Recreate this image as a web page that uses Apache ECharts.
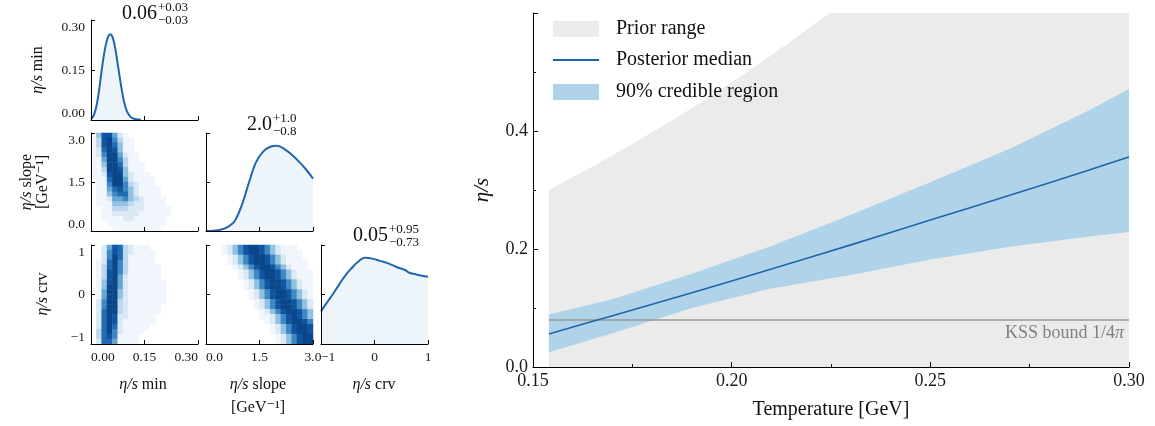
<!DOCTYPE html>
<html><head><meta charset="utf-8">
<script src="https://cdn.jsdelivr.net/npm/echarts@6/dist/echarts.min.js"></script>
<style>html,body{margin:0;padding:0;background:#fff}#c{width:1155px;height:426px}</style>
</head><body><div id="c"></div>
<script>
// ---------------- DATA ----------------
// Tick labels
const minTicks = ['0.00', '0.15', '0.30'];
const slopeTicks = ['0.0', '1.5', '3.0'];
const crvTicks = ['\u22121', '0', '1'];
const tempTicks = ['0.15', '0.20', '0.25', '0.30'];
const etaTicks = ['0.0', '0.2', '0.4', ''];

// Parameter ranges [min, max, tick step]
const minRange = [0, 0.30, 0.15];
const slopeRange = [0, 3.0, 1.5];
const crvRange = [-1, 1, 1];
const densRange = [0, 1, 0.5];

// Posterior estimates shown above diagonal panels
const estMedian = ['0.06', '2.0', '0.05'];
const estPlus = ['+0.03', '+1.0', '+0.95'];
const estMinus = ['\u22120.03', '\u22120.8', '\u22120.73'];

// 1D marginal densities
const kdeMinX = [0.000, 0.008, 0.016, 0.024, 0.032, 0.040, 0.048, 0.054, 0.060, 0.068, 0.076, 0.084, 0.092, 0.100, 0.110, 0.120, 0.140];
const kdeMinY = [0.003, 0.015, 0.045, 0.100, 0.165, 0.218, 0.250, 0.257, 0.250, 0.215, 0.160, 0.105, 0.058, 0.028, 0.010, 0.004, 0.001];
const kdeSlopeX = [0.0, 0.2, 0.4, 0.6, 0.8, 1.0, 1.2, 1.4, 1.6, 1.8, 2.0, 2.2, 2.4, 2.6, 2.8, 3.0];
const kdeSlopeY = [0.000, 0.003, 0.012, 0.040, 0.100, 0.260, 0.490, 0.700, 0.810, 0.860, 0.870, 0.835, 0.780, 0.710, 0.630, 0.535];
const kdeCrvX = [-1.0, -0.9, -0.77, -0.65, -0.52, -0.42, -0.33, -0.18, -0.02, 0.10, 0.23, 0.40, 0.58, 0.65, 0.80, 1.0];
const kdeCrvY = [0.33, 0.41, 0.51, 0.61, 0.71, 0.77, 0.82, 0.87, 0.86, 0.84, 0.82, 0.78, 0.745, 0.72, 0.70, 0.68];

// 2D histograms: 20x20 bins, intensity 0-9, rows listed from top (max y) to bottom
const heatMinSlope = [
  "14885210000000000000","13896311000000000000","13897411000000000000","12798411000000000000",
  "12699521100000000000","11599631100000000000","11499731110000000000","11399841110000000000",
  "11289942111000000000","01179952111100000000","01169963211100000000","01157864211110000000",
  "01146774211110000000","01125564321111000000","01114443221111000000","00113332221111100000",
  "00112222211111100000","00111122111111000000","00011111111111000000","00001111111110000000"];
const heatMinCrv = [
  "00258732111000000000","00268732111100000000","00269731111100000000","01279631111100000000",
  "01379631111110000000","01389631111110000000","01389521111110000000","01489521111111000000",
  "01499521111111000000","01599421111111000000","01599421111111000000","02699321111111000000",
  "02699321111110000000","02799321111110000000","02798221111100000000","02798211111100000000",
  "02797211111000000000","03796211110000000000","03786111100000000000","02775111100000000000"];
const heatSlopeCrv = [
  "00012468998642111000","00012468998642111100","00001246899864211100","00001246899864211110",
  "00000124689986421110","00000012468998642111","00000012468998642111","00000001246899864211",
  "00000001246899864211","00000000124689986421","00000000124689986421","00000000012468998642",
  "00000000012468998642","00000000001246899864","00000000001124689864","00000000000124689986",
  "00000000000012468998","00000000000012468998","00000000000001246899","00000000000001246899"];

// Right panel: temperature dependence of eta/s
const temperature = [0.154, 0.170, 0.190, 0.210, 0.230, 0.250, 0.270, 0.290, 0.300];
const medianEta = [0.056, 0.087, 0.126, 0.166, 0.207, 0.249, 0.291, 0.334, 0.356];
const lowerEta = [0.025, 0.057, 0.100, 0.133, 0.156, 0.182, 0.204, 0.221, 0.229];
const upperEta = [0.089, 0.115, 0.158, 0.205, 0.258, 0.313, 0.370, 0.435, 0.471];
const priorT = [0.154, 0.165, 0.175, 0.185, 0.195, 0.205, 0.215, 0.225, 0.240, 0.300];
const priorUpper = [0.300, 0.340, 0.378, 0.418, 0.460, 0.505, 0.552, 0.602, 0.680, 1.050];
const kssBound = 0.0796;
const tempRange = [0.15, 0.30, 0.05];
const etaRange = [0, 0.6, 0.2];

// ---------------- STYLE ----------------
const SERIF = "'Liberation Serif','DejaVu Serif',serif";
const BLUE = '#2166ac';
const FILL1D = '#edf4fa';
const BAND = '#afd3e8';
const PRIOR = '#ebebeb';
const HEAT_COLORS = ['#ffffff','#f1f6fc','#dbe9f6','#bdd7ed','#93c1e0','#66a6d3','#3d87c4','#226ab1','#0f55a1','#0a468a'];

const option = {animation: false, textStyle: {fontFamily: SERIF}, grid: [], xAxis: [], yAxis: [], series: [], visualMap: [], graphic: []};

function addGrid(l, t, w, h) { option.grid.push({left: l, top: t, width: w, height: h}); return option.grid.length - 1; }
function addAxis(list, cfg) { list.push(cfg); return list.length - 1; }
function valueAxis(gi, range, labels, labelExtra, fontSize) {
  return {
    type: 'value', gridIndex: gi, min: range[0], max: range[1], interval: range[2], z: 10,
    axisLine: {show: true, onZero: false, lineStyle: {color: '#000', width: 1}},
    axisTick: {show: true, inside: true, length: 4, lineStyle: {color: '#000', width: 1}},
    splitLine: {show: false},
    axisLabel: Object.assign({
      show: !!labels, color: '#1a1a1a', fontFamily: SERIF, fontSize: fontSize || 13.5, margin: 6,
      showMinLabel: true, showMaxLabel: true, hideOverlap: false,
      formatter: (v, i) => labels ? (labels[i] !== undefined ? labels[i] : '') : ''
    }, labelExtra || {})
  };
}
const binIdx = Array.from({length: 20}, (_, i) => i);
const heatSeriesIdx = [];
function heatData(rows) {
  const out = [];
  rows.forEach((s, r) => { for (let c = 0; c < s.length; c++) { const v = +s[c]; if (v > 0) out.push([c, rows.length - 1 - r, v]); } });
  return out;
}
function addHeat(gi, rows) {
  const cx = addAxis(option.xAxis, {type: 'category', gridIndex: gi, data: binIdx, show: false, position: 'top'});
  const cy = addAxis(option.yAxis, {type: 'category', gridIndex: gi, data: binIdx, show: false, position: 'right'});
  option.series.push({type: 'heatmap', xAxisIndex: cx, yAxisIndex: cy, data: heatData(rows), itemStyle: {borderWidth: 0}, emphasis: {disabled: true}, z: 2});
  heatSeriesIdx.push(option.series.length - 1);
}
function addKde(xi, yi, xs, ys) {
  option.series.push({type: 'line', xAxisIndex: xi, yAxisIndex: yi, data: xs.map((x, i) => [x, ys[i]]),
    symbol: 'none', smooth: 0.35, lineStyle: {color: BLUE, width: 2}, areaStyle: {color: FILL1D, opacity: 1}, z: 3});
}
const yAlign = {verticalAlignMinLabel: 'bottom', verticalAlignMaxLabel: 'top'};

// Corner panels
const COLS = [91, 206, 321], ROWS = [[20, 100], [133, 98], [245, 99]], PW = 107;
// (1,1) eta/s min marginal
let g = addGrid(COLS[0], ROWS[0][0], PW, ROWS[0][1]);
let xi = addAxis(option.xAxis, valueAxis(g, minRange, null));
let yi = addAxis(option.yAxis, valueAxis(g, minRange, minTicks, yAlign));
addKde(xi, yi, kdeMinX, kdeMinY);
// (2,1) min vs slope
g = addGrid(COLS[0], ROWS[1][0], PW, ROWS[1][1]);
addAxis(option.xAxis, valueAxis(g, minRange, null));
addAxis(option.yAxis, valueAxis(g, slopeRange, slopeTicks, yAlign));
addHeat(g, heatMinSlope);
// (3,1) min vs crv
g = addGrid(COLS[0], ROWS[2][0], PW, ROWS[2][1]);
addAxis(option.xAxis, valueAxis(g, minRange, minTicks, {alignMinLabel: 'left', alignMaxLabel: 'right'}));
addAxis(option.yAxis, valueAxis(g, crvRange, crvTicks, yAlign));
addHeat(g, heatMinCrv);
// (2,2) slope marginal
g = addGrid(COLS[1], ROWS[1][0], PW, ROWS[1][1]);
xi = addAxis(option.xAxis, valueAxis(g, slopeRange, null));
yi = addAxis(option.yAxis, valueAxis(g, densRange, null));
addKde(xi, yi, kdeSlopeX, kdeSlopeY);
// (3,2) slope vs crv
g = addGrid(COLS[1], ROWS[2][0], PW, ROWS[2][1]);
addAxis(option.xAxis, valueAxis(g, slopeRange, slopeTicks, {alignMinLabel: 'left'}));
addAxis(option.yAxis, valueAxis(g, crvRange, null));
addHeat(g, heatSlopeCrv);
// (3,3) crv marginal
g = addGrid(COLS[2], ROWS[2][0], PW, ROWS[2][1]);
xi = addAxis(option.xAxis, valueAxis(g, crvRange, crvTicks, {alignMinLabel: 'left'}));
yi = addAxis(option.yAxis, valueAxis(g, densRange, null));
addKde(xi, yi, kdeCrvX, kdeCrvY);

option.visualMap.push({type: 'continuous', show: false, min: 0, max: 9, dimension: 2, seriesIndex: heatSeriesIdx, inRange: {color: HEAT_COLORS}});

// Right panel
g = addGrid(533, 13, 596, 354);
const mx = valueAxis(g, tempRange, tempTicks, {margin: 5, fontSize: 18, formatter: (v, i) => tempTicks[i] || ''}, 18);
mx.axisTick.length = 5;
mx.minorTick = {show: true, splitNumber: 2, length: 3, lineStyle: {color: '#000'}};
xi = addAxis(option.xAxis, mx);
const my = valueAxis(g, etaRange, etaTicks, {margin: 5, fontSize: 18}, 18);
my.axisTick.length = 5;
my.minorTick = {show: true, splitNumber: 2, length: 3, lineStyle: {color: '#000'}};
yi = addAxis(option.yAxis, my);

option.series.push({type: 'line', name: 'Prior range', xAxisIndex: xi, yAxisIndex: yi, data: priorT.map((t, i) => [t, priorUpper[i]]),
  symbol: 'none', lineStyle: {width: 0, color: PRIOR}, itemStyle: {color: PRIOR}, areaStyle: {color: PRIOR, opacity: 1}, clip: true, z: 1});
option.series.push({type: 'custom', name: '90% credible region', xAxisIndex: xi, yAxisIndex: yi, clip: true, z: 2,
  data: temperature.map((t, i) => [t, lowerEta[i], upperEta[i]]), encode: {x: 0, y: [1, 2]},
  renderItem: (params, api) => {
    if (params.dataIndex !== 0) return null;
    const pts = [];
    for (let i = 0; i < temperature.length; i++) pts.push(api.coord([temperature[i], upperEta[i]]));
    for (let i = temperature.length - 1; i >= 0; i--) pts.push(api.coord([temperature[i], lowerEta[i]]));
    return {type: 'polygon', shape: {points: pts}, style: {fill: BAND}};
  }});
option.series.push({type: 'line', name: 'KSS bound', xAxisIndex: xi, yAxisIndex: yi, data: [[temperature[0], kssBound], [temperature[temperature.length - 1], kssBound]],
  symbol: 'none', lineStyle: {color: '#9a9a9a', width: 1.6}, z: 3});
option.series.push({type: 'line', name: 'Posterior median', xAxisIndex: xi, yAxisIndex: yi, data: temperature.map((t, i) => [t, medianEta[i]]),
  symbol: 'none', smooth: 0.3, lineStyle: {color: BLUE, width: 1.6}, z: 4});

// ---------------- TEXT / LEGEND ----------------
const it = {fontStyle: 'italic', fontFamily: SERIF};
function txt(x, y, text, size, extra, rich) {
  return Object.assign({type: 'text', x: x, y: y, z: 20, style: {text: text, fontFamily: SERIF, fontSize: size, fill: '#111', align: 'center', verticalAlign: 'middle',
    rich: rich || {}}}, extra || {});
}
const R = Math.PI / 2;
const gr = option.graphic;
// corner axis titles
gr.push(txt(38, 70, '{i|\u03b7/s} min', 16, {rotation: R}, {i: Object.assign({fontSize: 16}, it)}));
gr.push(txt(35, 182, '{i|\u03b7/s} slope\n[GeV\u207b\u00b9]', 16, {rotation: R}, {i: Object.assign({fontSize: 16}, it)}));
gr.push(txt(43, 294, '{i|\u03b7/s} crv', 16, {rotation: R}, {i: Object.assign({fontSize: 16}, it)}));
gr.push(txt(143, 385, '{i|\u03b7/s} min', 16, null, {i: Object.assign({fontSize: 16}, it)}));
gr.push(txt(258, 385, '{i|\u03b7/s} slope', 16, null, {i: Object.assign({fontSize: 16}, it)}));
gr.push(txt(258, 408, '[GeV\u207b\u00b9]', 16));
gr.push(txt(374, 385, '{i|\u03b7/s} crv', 16, null, {i: Object.assign({fontSize: 16}, it)}));
// estimates above diagonals
const estPos = [[157, 14], [272, 125], [388, 236]];
estPos.forEach((p, k) => {
  const m = txt(p[0], p[1], estMedian[k], 20); m.style.align = 'right'; gr.push(m);
  const s = txt(p[0] + 1, p[1] - 6, estPlus[k], 13); s.style.align = 'left'; gr.push(s);
  const b = txt(p[0] + 1, p[1] + 6.5, estMinus[k], 13); b.style.align = 'left'; gr.push(b);
});
// right axis titles
gr.push(txt(831, 410, 'Temperature [GeV]', 20));
gr.push(txt(482, 190, '{i|\u03b7/s}', 21, {rotation: R}, {i: Object.assign({fontSize: 21}, it)}));
// KSS label
const kss = txt(1124, 333, 'KSS bound 1/4{i|\u03c0}', 18, null, {i: Object.assign({fontSize: 18, fill: '#808080'}, it)});
kss.style.align = 'right'; kss.style.fill = '#808080'; gr.push(kss);
// legend
gr.push({type: 'rect', z: 20, shape: {x: 553, y: 21, width: 46, height: 16}, style: {fill: PRIOR}});
gr.push({type: 'line', z: 20, shape: {x1: 553, y1: 60, x2: 599, y2: 60}, style: {stroke: BLUE, lineWidth: 2}});
gr.push({type: 'rect', z: 20, shape: {x: 553, y: 84, width: 46, height: 16}, style: {fill: BAND}});
['Prior range', 'Posterior median', '90% credible region'].forEach((t, k) => {
  const e = txt(616, [29, 60, 92][k], t, 20); e.style.align = 'left'; gr.push(e);
});

const chart = echarts.init(document.getElementById('c'), null, {renderer: 'canvas'});
chart.setOption(option);
</script>
</body></html>
